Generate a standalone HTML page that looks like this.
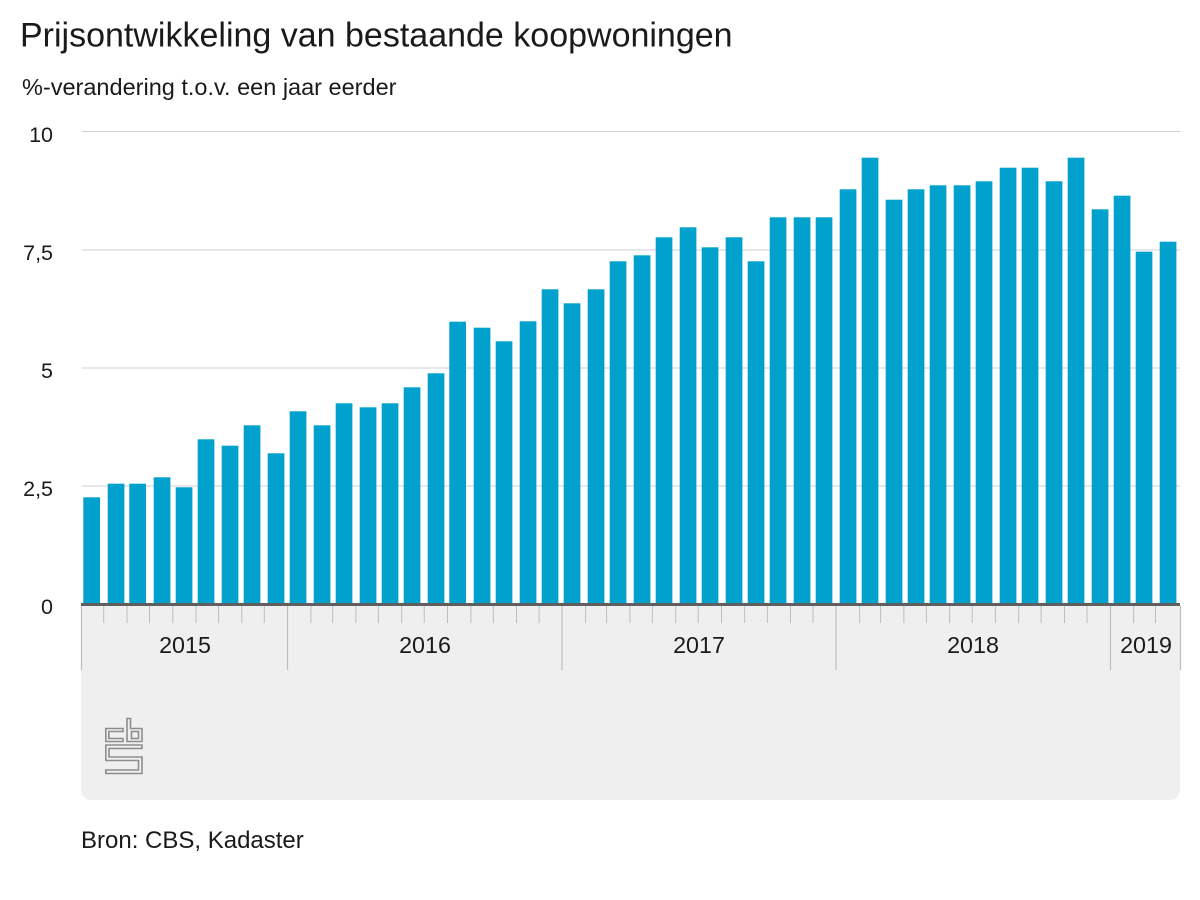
<!DOCTYPE html>
<html>
<head>
<meta charset="utf-8">
<style>
  html, body { margin: 0; padding: 0; background: #ffffff; }
  body { width: 1200px; height: 900px; overflow: hidden; }
  svg { display: block; }
  text { font-family: "Liberation Sans", Arial, sans-serif; }
</style>
</head>
<body>
<svg width="1200" height="900" viewBox="0 0 1200 900" xmlns="http://www.w3.org/2000/svg">
  <rect x="0" y="0" width="1200" height="900" fill="#ffffff"/>

  <text x="20" y="46.5" font-size="34" fill="#1a1a1a">Prijsontwikkeling van bestaande koopwoningen</text>
  <text x="22" y="95" font-size="23.5" fill="#1a1a1a">%-verandering t.o.v. een jaar eerder</text>

  <g stroke="#cfcfcf" stroke-width="1">
    <line x1="82" y1="131.5" x2="1180" y2="131.5"/>
    <line x1="82" y1="250" x2="1180" y2="250"/>
    <line x1="82" y1="368" x2="1180" y2="368"/>
    <line x1="82" y1="486" x2="1180" y2="486"/>
  </g>

  <g font-size="21.5" fill="#1a1a1a" text-anchor="end">
    <text x="53" y="142">10</text>
    <text x="53" y="260">7,5</text>
    <text x="53" y="378">5</text>
    <text x="53" y="496">2,5</text>
    <text x="53" y="614">0</text>
  </g>

  <path d="M81,604 H1180 V788 Q1180,800 1168,800 H93 Q81,800 81,788 Z" fill="#efefef"/>

  <g fill="#00a1cd">
    <rect x="83.3" y="497.3" width="16.7" height="106.7"/>
    <rect x="107.7" y="483.7" width="16.7" height="120.3"/>
    <rect x="129.3" y="483.7" width="16.7" height="120.3"/>
    <rect x="153.7" y="477.3" width="16.7" height="126.7"/>
    <rect x="175.7" y="487.3" width="16.7" height="116.7"/>
    <rect x="197.7" y="439.3" width="16.7" height="164.7"/>
    <rect x="221.7" y="445.7" width="16.7" height="158.3"/>
    <rect x="243.7" y="425.3" width="16.7" height="178.7"/>
    <rect x="267.7" y="453.3" width="16.7" height="150.7"/>
    <rect x="289.7" y="411.3" width="16.7" height="192.7"/>
    <rect x="313.7" y="425.3" width="16.7" height="178.7"/>
    <rect x="335.7" y="403.3" width="16.7" height="200.7"/>
    <rect x="359.7" y="407.3" width="16.7" height="196.7"/>
    <rect x="381.7" y="403.3" width="16.7" height="200.7"/>
    <rect x="403.7" y="387.3" width="16.7" height="216.7"/>
    <rect x="427.7" y="373.3" width="16.7" height="230.7"/>
    <rect x="449.3" y="321.7" width="16.7" height="282.3"/>
    <rect x="473.7" y="327.7" width="16.7" height="276.3"/>
    <rect x="495.7" y="341.3" width="16.7" height="262.7"/>
    <rect x="519.7" y="321.3" width="16.7" height="282.7"/>
    <rect x="541.7" y="289.3" width="16.7" height="314.7"/>
    <rect x="563.7" y="303.3" width="16.7" height="300.7"/>
    <rect x="587.7" y="289.3" width="16.7" height="314.7"/>
    <rect x="609.7" y="261.3" width="16.7" height="342.7"/>
    <rect x="633.7" y="255.3" width="16.7" height="348.7"/>
    <rect x="655.7" y="237.3" width="16.7" height="366.7"/>
    <rect x="679.7" y="227.3" width="16.7" height="376.7"/>
    <rect x="701.7" y="247.3" width="16.7" height="356.7"/>
    <rect x="725.7" y="237.3" width="16.7" height="366.7"/>
    <rect x="747.7" y="261.3" width="16.7" height="342.7"/>
    <rect x="769.7" y="217.3" width="16.7" height="386.7"/>
    <rect x="793.7" y="217.3" width="16.7" height="386.7"/>
    <rect x="815.7" y="217.3" width="16.7" height="386.7"/>
    <rect x="839.7" y="189.3" width="16.7" height="414.7"/>
    <rect x="861.7" y="157.7" width="16.7" height="446.3"/>
    <rect x="885.7" y="199.7" width="16.7" height="404.3"/>
    <rect x="907.7" y="189.3" width="16.7" height="414.7"/>
    <rect x="929.7" y="185.3" width="16.7" height="418.7"/>
    <rect x="953.7" y="185.3" width="16.7" height="418.7"/>
    <rect x="975.7" y="181.3" width="16.7" height="422.7"/>
    <rect x="999.7" y="167.7" width="16.7" height="436.3"/>
    <rect x="1021.7" y="167.7" width="16.7" height="436.3"/>
    <rect x="1045.7" y="181.3" width="16.7" height="422.7"/>
    <rect x="1067.7" y="157.7" width="16.7" height="446.3"/>
    <rect x="1091.7" y="209.3" width="16.7" height="394.7"/>
    <rect x="1113.7" y="195.7" width="16.7" height="408.3"/>
    <rect x="1135.7" y="251.7" width="16.7" height="352.3"/>
    <rect x="1159.7" y="241.7" width="16.7" height="362.3"/>
  </g>

  <rect x="81" y="603" width="1099" height="3" fill="#5f5f5f"/>

  <g stroke="#bdbdbd" stroke-width="1">
    <line x1="103.7" y1="606" x2="103.7" y2="623"/>
    <line x1="127" y1="606" x2="127" y2="623"/>
    <line x1="149.5" y1="606" x2="149.5" y2="623"/>
    <line x1="172.8" y1="606" x2="172.8" y2="623"/>
    <line x1="196" y1="606" x2="196" y2="623"/>
    <line x1="218.6" y1="606" x2="218.6" y2="623"/>
    <line x1="241.8" y1="606" x2="241.8" y2="623"/>
    <line x1="264.3" y1="606" x2="264.3" y2="623"/>
    <line x1="310.9" y1="606" x2="310.9" y2="623"/>
    <line x1="332.7" y1="606" x2="332.7" y2="623"/>
    <line x1="355.9" y1="606" x2="355.9" y2="623"/>
    <line x1="378.4" y1="606" x2="378.4" y2="623"/>
    <line x1="401.7" y1="606" x2="401.7" y2="623"/>
    <line x1="424.2" y1="606" x2="424.2" y2="623"/>
    <line x1="447.5" y1="606" x2="447.5" y2="623"/>
    <line x1="470.8" y1="606" x2="470.8" y2="623"/>
    <line x1="493.3" y1="606" x2="493.3" y2="623"/>
    <line x1="516.5" y1="606" x2="516.5" y2="623"/>
    <line x1="539.1" y1="606" x2="539.1" y2="623"/>
    <line x1="585.6" y1="606" x2="585.6" y2="623"/>
    <line x1="606.6" y1="606" x2="606.6" y2="623"/>
    <line x1="629.9" y1="606" x2="629.9" y2="623"/>
    <line x1="652.4" y1="606" x2="652.4" y2="623"/>
    <line x1="675.7" y1="606" x2="675.7" y2="623"/>
    <line x1="698.2" y1="606" x2="698.2" y2="623"/>
    <line x1="721.5" y1="606" x2="721.5" y2="623"/>
    <line x1="744.7" y1="606" x2="744.7" y2="623"/>
    <line x1="767.3" y1="606" x2="767.3" y2="623"/>
    <line x1="790.5" y1="606" x2="790.5" y2="623"/>
    <line x1="813" y1="606" x2="813" y2="623"/>
    <line x1="859.6" y1="606" x2="859.6" y2="623"/>
    <line x1="880.6" y1="606" x2="880.6" y2="623"/>
    <line x1="903.9" y1="606" x2="903.9" y2="623"/>
    <line x1="926.4" y1="606" x2="926.4" y2="623"/>
    <line x1="949.6" y1="606" x2="949.6" y2="623"/>
    <line x1="972.2" y1="606" x2="972.2" y2="623"/>
    <line x1="995.4" y1="606" x2="995.4" y2="623"/>
    <line x1="1018.7" y1="606" x2="1018.7" y2="623"/>
    <line x1="1041.2" y1="606" x2="1041.2" y2="623"/>
    <line x1="1064.5" y1="606" x2="1064.5" y2="623"/>
    <line x1="1087" y1="606" x2="1087" y2="623"/>
    <line x1="1133.6" y1="606" x2="1133.6" y2="623"/>
    <line x1="1155.5" y1="606" x2="1155.5" y2="623"/>
  </g>

  <g stroke="#bdbdbd" stroke-width="1.2">
    <line x1="81.5" y1="606" x2="81.5" y2="670"/>
    <line x1="287.5" y1="606" x2="287.5" y2="670"/>
    <line x1="562" y1="606" x2="562" y2="670"/>
    <line x1="836" y1="606" x2="836" y2="670"/>
    <line x1="1110.5" y1="606" x2="1110.5" y2="670"/>
    <line x1="1180.5" y1="606" x2="1180.5" y2="670"/>
  </g>

  <g font-size="23.3" fill="#1a1a1a" text-anchor="middle">
    <text x="185" y="653">2015</text>
    <text x="425" y="653">2016</text>
    <text x="699" y="653">2017</text>
    <text x="973" y="653">2018</text>
    <text x="1146" y="653">2019</text>
  </g>

  <g fill="none" stroke="#8d8d8d" stroke-width="1.6">
    <path d="M123,728.5 H105.8 V741.5 H123 V738.5 H108.8 V731.5 H123 Z"/>
    <path d="M127,718.5 H130.5 V728.5 H142 V741.5 H127 Z"/>
    <rect x="131.5" y="731.5" width="7" height="7"/>
    <path d="M105.8,745 H142 V748.5 H109 V757 H142 V773.5 H105.8 V770 H138.5 V760.5 H105.8 Z"/>
  </g>

  <text x="81" y="848" font-size="24" fill="#1a1a1a">Bron: CBS, Kadaster</text>
</svg>
</body>
</html>
